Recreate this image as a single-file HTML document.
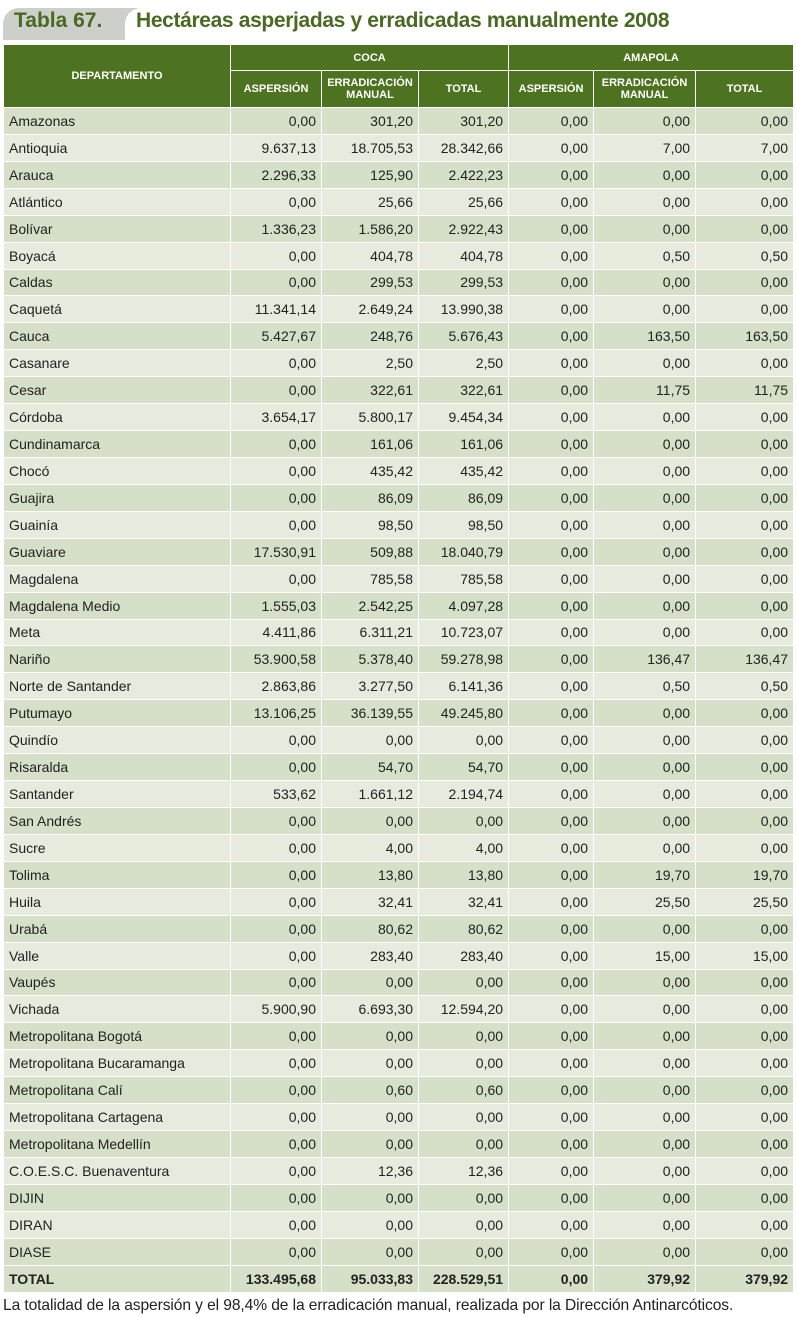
<!DOCTYPE html>
<html><head><meta charset="utf-8">
<style>
body{margin:0;width:797px;height:1317px;background:#fff;overflow:hidden;font-family:"Liberation Sans Narrow","Liberation Sans",sans-serif;position:relative}
#tab{position:absolute;left:3px;top:8px;width:150px;height:32px;background:#cdcfcb;border-radius:16px 0 0 0}
#tabtxt{position:absolute;left:14px;top:9px;font:bold 21px "Liberation Sans",sans-serif;color:#4a6a22}
#ttl{position:absolute;left:125px;top:8px;width:670px;height:32px;background:#fff;border-radius:16px 0 0 0}
#ttltxt{position:absolute;left:136px;top:9px;font:bold 21px "Liberation Sans",sans-serif;color:#4a6a22;letter-spacing:-0.35px}
table{position:absolute;left:3px;top:44px;border-collapse:collapse;table-layout:fixed;width:790px}
td,th{border:1px solid #fff;padding:0 5px;font-size:14px;color:#222;white-space:nowrap;overflow:hidden}
tbody tr{height:26.93px}
th{background:#4e7320;color:#fff;font-size:11px;font-weight:bold;line-height:12px;text-align:center}
td{text-align:right}
td.n{text-align:left}
tr.o td{background:#d6dfc7}
tr.e td{background:#e6ebdd}
tr.t td{font-weight:bold;background:#d6dfc7}
#foot{position:absolute;left:3px;top:1297px;font:15.6px "Liberation Sans",sans-serif;color:#222;letter-spacing:-0.1px}
</style></head><body>
<div id="tab"></div>
<div id="tabtxt">Tabla 67.</div>
<div id="ttl"></div>
<div id="ttltxt">Hectáreas asperjadas y erradicadas manualmente 2008</div>
<table id="tbl">
<colgroup><col style="width:227px"><col style="width:91px"><col style="width:97px"><col style="width:90px"><col style="width:85px"><col style="width:102px"><col style="width:98px"></colgroup>
<thead>
<tr style="height:26px"><th rowspan="2">DEPARTAMENTO</th><th colspan="3">COCA</th><th colspan="3">AMAPOLA</th></tr>
<tr style="height:37px"><th>ASPERSIÓN</th><th>ERRADICACIÓN<br>MANUAL</th><th>TOTAL</th><th>ASPERSIÓN</th><th>ERRADICACIÓN<br>MANUAL</th><th>TOTAL</th></tr>
</thead>
<tbody id="tb"></tbody>
</table>
<div id="foot">La totalidad de la aspersión y el 98,4% de la erradicación manual, realizada por la Dirección Antinarcóticos.</div>
<script>
const names=["Amazonas","Antioquia","Arauca","Atlántico","Bolívar","Boyacá","Caldas","Caquetá","Cauca","Casanare","Cesar","Córdoba","Cundinamarca","Chocó","Guajira","Guainía","Guaviare","Magdalena","Magdalena Medio","Meta","Nariño","Norte de Santander","Putumayo","Quindío","Risaralda","Santander","San Andrés","Sucre","Tolima","Huila","Urabá","Valle","Vaupés","Vichada","Metropolitana Bogotá","Metropolitana Bucaramanga","Metropolitana Calí","Metropolitana Cartagena","Metropolitana Medellín","C.O.E.S.C. Buenaventura","DIJIN","DIRAN","DIASE"];
const cocaAsp=["0,00","9.637,13","2.296,33","0,00","1.336,23","0,00","0,00","11.341,14","5.427,67","0,00","0,00","3.654,17","0,00","0,00","0,00","0,00","17.530,91","0,00","1.555,03","4.411,86","53.900,58","2.863,86","13.106,25","0,00","0,00","533,62","0,00","0,00","0,00","0,00","0,00","0,00","0,00","5.900,90","0,00","0,00","0,00","0,00","0,00","0,00","0,00","0,00","0,00"];
const cocaErr=["301,20","18.705,53","125,90","25,66","1.586,20","404,78","299,53","2.649,24","248,76","2,50","322,61","5.800,17","161,06","435,42","86,09","98,50","509,88","785,58","2.542,25","6.311,21","5.378,40","3.277,50","36.139,55","0,00","54,70","1.661,12","0,00","4,00","13,80","32,41","80,62","283,40","0,00","6.693,30","0,00","0,00","0,60","0,00","0,00","12,36","0,00","0,00","0,00"];
const cocaTot=["301,20","28.342,66","2.422,23","25,66","2.922,43","404,78","299,53","13.990,38","5.676,43","2,50","322,61","9.454,34","161,06","435,42","86,09","98,50","18.040,79","785,58","4.097,28","10.723,07","59.278,98","6.141,36","49.245,80","0,00","54,70","2.194,74","0,00","4,00","13,80","32,41","80,62","283,40","0,00","12.594,20","0,00","0,00","0,60","0,00","0,00","12,36","0,00","0,00","0,00"];
const amaErr=["0,00","7,00","0,00","0,00","0,00","0,50","0,00","0,00","163,50","0,00","11,75","0,00","0,00","0,00","0,00","0,00","0,00","0,00","0,00","0,00","136,47","0,50","0,00","0,00","0,00","0,00","0,00","0,00","19,70","25,50","0,00","15,00","0,00","0,00","0,00","0,00","0,00","0,00","0,00","0,00","0,00","0,00","0,00"];
const totals=["TOTAL","133.495,68","95.033,83","228.529,51","0,00","379,92","379,92"];
const tb=document.getElementById('tb');
function addRow(cells,cls){
  const tr=document.createElement('tr');
  tr.className=cls;
  
  
  cells.forEach((c,i)=>{
    const td=document.createElement('td');
    if(i===0)td.className='n';
    td.textContent=c;
    
    
    tr.appendChild(td);
  });
  tb.appendChild(tr);
}
names.forEach((n,i)=>{
  addRow([n,cocaAsp[i],cocaErr[i],cocaTot[i],"0,00",amaErr[i],amaErr[i]],i%2?'e':'o');
});
addRow(totals,'t');
</script>
</body></html>
